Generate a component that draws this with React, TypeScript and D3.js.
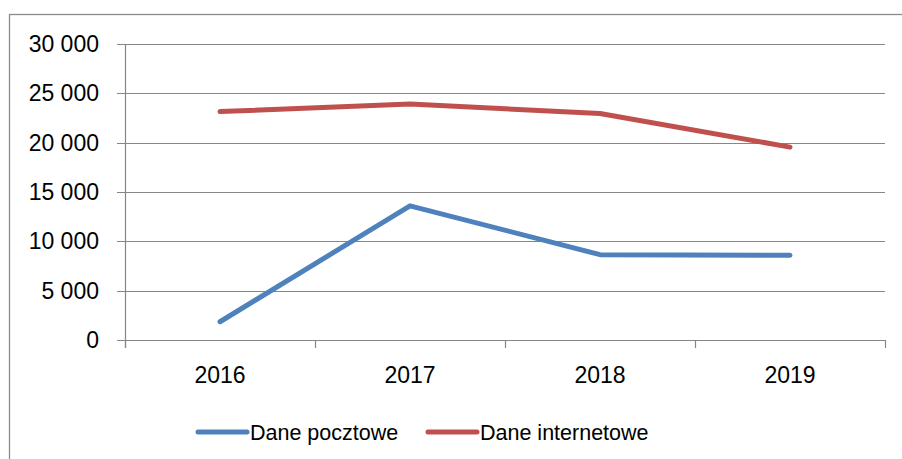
import React from "react";
import * as d3 from "d3";

const categories = ["2016", "2017", "2018", "2019"];
const seriesNames = ["Dane pocztowe", "Dane internetowe"];
const pocztowe = [1850, 13600, 8650, 8580];
const internetowe = [23150, 23920, 22950, 19550];
const yTicks = [0, 5000, 10000, 15000, 20000, 25000, 30000];
const colors = ["#4F81BD", "#C0504D"];

const W = 902;
const H = 459;
const FONT = "'Liberation Sans', Arial, sans-serif";

export default function App() {
  const left = 125, right = 885, top = 44, bottom = 340;
  const x = d3.scaleBand<string>().domain(categories).range([left, right]);
  const y = d3.scaleLinear().domain([0, 30000]).range([bottom, top]);
  const fmt = (v: number) => d3.format(",")(v).replace(/,/g, " ");
  const line = d3
    .line<number>()
    .x((_, i) => (x(categories[i]) as number) + x.bandwidth() / 2)
    .y((d) => y(d));
  const series = [pocztowe, internetowe];
  const grid = "#868686";
  const boundaries = [...categories.map((c) => x(c) as number), right];

  return (
    <svg
      width={W}
      height={H}
      style={{ position: "absolute", left: 0, top: 0, background: "#fff" }}
      fontFamily={FONT}
    >
      <rect x={9.5} y={14.5} width={W + 10} height={H + 10} fill="none" stroke="#8c8c8c" strokeWidth={1.3} />
      {yTicks.map((t) => (
        <g key={t}>
          <line x1={117} x2={right} y1={Math.round(y(t)) + 0.5} y2={Math.round(y(t)) + 0.5} stroke={grid} strokeWidth={1.2} />
          <text x={99} y={y(t)} dy="0.35em" textAnchor="end" fontSize={23} fill="#000">
            {fmt(t)}
          </text>
        </g>
      ))}
      <line x1={left + 0.5} x2={left + 0.5} y1={top} y2={bottom + 8} stroke={grid} strokeWidth={1.2} />
      {boundaries.map((b, i) => (
        <line key={i} x1={b + 0.5} x2={b + 0.5} y1={bottom} y2={bottom + 8} stroke={grid} strokeWidth={1.2} />
      ))}
      {categories.map((c) => (
        <text key={c} x={(x(c) as number) + x.bandwidth() / 2} y={y(0) + 35} dy="0.35em" textAnchor="middle" fontSize={23} fill="#000">
          {c}
        </text>
      ))}
      {series.map((s, i) => (
        <path key={i} d={line(s) as string} fill="none" stroke={colors[i]} strokeWidth={5} strokeLinecap="round" strokeLinejoin="round" />
      ))}
      {seriesNames.map((n, i) => {
        const lx = i === 0 ? 198 : 428;
        const ly = 432;
        return (
          <g key={n}>
            <line x1={lx} x2={lx + 49} y1={ly} y2={ly} stroke={colors[i]} strokeWidth={5} strokeLinecap="round" />
            <text x={lx + 52} y={ly} dy="0.35em" fontSize={21.5} fill="#000">
              {n}
            </text>
          </g>
        );
      })}
    </svg>
  );
}
